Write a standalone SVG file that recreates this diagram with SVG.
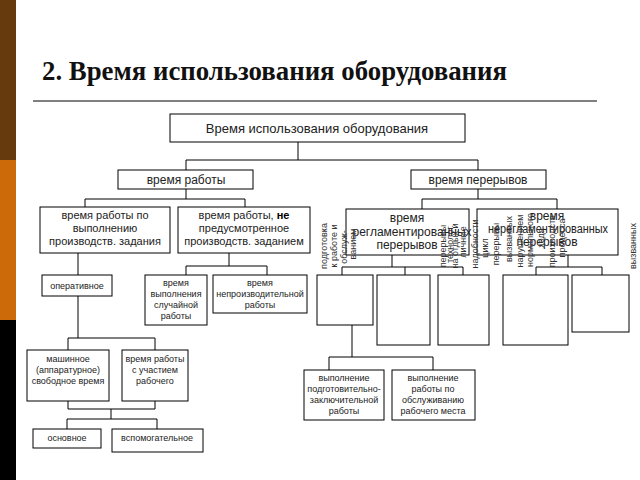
<svg xmlns="http://www.w3.org/2000/svg" width="640" height="480" viewBox="0 0 640 480">
<style>
.bx{fill:#fff;stroke:#000;stroke-width:1}
.t{font-family:"Liberation Sans",Arial,sans-serif;fill:#222;text-anchor:middle}
.s13{font-size:13px}.s12{font-size:12px}.s11{font-size:11px}.s9{font-size:9px}
.v{font-family:"Liberation Sans",Arial,sans-serif;font-size:9px;fill:#333;text-anchor:middle}
#connectors path{fill:none;stroke:#000;stroke-width:1}
</style>
<rect x="0" y="0" width="640" height="480" fill="#fff"/>
<rect x="0" y="0" width="16" height="160" fill="#663a0c"/>
<rect x="0" y="160" width="16" height="160" fill="#cc6a0a"/>
<rect x="0" y="320" width="16" height="160" fill="#000"/>
<text x="42" y="80" font-family="Liberation Serif,'Times New Roman',serif" font-weight="bold" font-size="28" textLength="465" lengthAdjust="spacingAndGlyphs" fill="#111">2. Время использования оборудования</text>
<line x1="33" y1="101" x2="597" y2="101" stroke="#000" stroke-width="1"/>
<g id="connectors">
<path d="M298 142V160M186 160H478M186 160V170M478 160V170"/>
<path d="M186 189V199M85 199H245M85 199V207M245 199V207"/>
<path d="M478 189V199M422 199H557M422 199V209M557 199V209"/>
<path d="M78 253V275M229 253V266M186 266H267M186 266V275M267 266V275"/>
<path d="M78 296V338M68 338H155M68 338V350M155 338V350"/>
<path d="M68 401V409M155 401V409M68 409H155M111 409V419M67 419H157M67 419V429M157 419V429"/>
<path d="M392 255V267M342 267H463M342 267V275M405 267V275M463 267V275"/>
<path d="M568 255V267M536 267H602M536 267V275M602 267V275"/>
<path d="M352 325V357M329 357H433M329 357V370M433 357V370"/>
</g>
<g id="n_top"><rect class="bx" x="170" y="114" width="295" height="28"/><text class="t s13" x="317" y="133">Время использования оборудования</text></g>
<g id="n_work"><rect class="bx" x="118" y="170" width="135" height="19"/><text class="t s12" x="186" y="184">время работы</text></g>
<g id="n_breaks"><rect class="bx" x="411" y="170" width="135" height="19"/><text class="t s12" x="478" y="184">время перерывов</text></g>
<g id="n_task"><rect class="bx" x="40" y="207" width="130" height="46"/><text class="t s11" x="105" y="219">время работы по</text><text class="t s11" x="105" y="232">выполнению</text><text class="t s11" x="105" y="245">производств. задания</text></g>
<g id="n_notask"><rect class="bx" x="178" y="207" width="132" height="46"/><text class="t s11" x="244" y="219">время работы, <tspan font-weight="bold" fill="#000">не</tspan></text><text class="t s11" x="244" y="232">предусмотренное</text><text class="t s11" x="244" y="245">производств. заданием</text></g>
<g id="n_reg"><rect class="bx" x="346" y="209" width="123" height="46"/><text class="t s12" x="407" y="222">время</text><text class="t s12" x="412" y="236">регламентированных</text><text class="t s12" x="407" y="249">перерывов</text></g>
<g id="n_nonreg"><rect class="bx" x="477" y="209" width="141" height="46"/><text class="t s12" x="547" y="220">время</text><text class="t s12" x="548" y="233" textLength="120" lengthAdjust="spacingAndGlyphs">нерегламентированных</text><text class="t s12" x="547" y="246">перерывов</text></g>
<g id="n_oper"><rect class="bx" x="42" y="275" width="70" height="21"/><text class="t s9" x="77" y="289">оперативное</text></g>
<g id="n_random"><rect class="bx" x="145" y="275" width="62" height="50"/><text class="t s9" x="176" y="286">время</text><text class="t s9" x="176" y="297">выполнения</text><text class="t s9" x="176" y="308">случайной</text><text class="t s9" x="176" y="319">работы</text></g>
<g id="n_unprod"><rect class="bx" x="213" y="275" width="94" height="38"/><text class="t s9" x="260" y="286">время</text><text class="t s9" x="260" y="297">непроизводительной</text><text class="t s9" x="260" y="308">работы</text></g>
<g id="n_e1"><rect class="bx" x="317" y="275" width="56" height="50"/></g>
<g id="n_e2"><rect class="bx" x="377" y="275" width="53" height="70"/></g>
<g id="n_e3"><rect class="bx" x="438" y="275" width="51" height="70"/></g>
<g id="n_e4"><rect class="bx" x="503" y="275" width="65" height="70"/></g>
<g id="n_e5"><rect class="bx" x="572" y="275" width="57" height="57"/></g>
<g id="vlabels">
<text class="v" transform="translate(327 246) rotate(-90)">подготовка</text>
<text class="v" transform="translate(337 246) rotate(-90)">к работе и</text>
<text class="v" transform="translate(347 247) rotate(-90)">обслуж-</text>
<text class="v" transform="translate(356 244) rotate(-90)">ванием</text>
<text class="v" transform="translate(446 246) rotate(-90)">перерывы</text>
<text class="v" transform="translate(453 244) rotate(-90)">технолог.</text>
<text class="v" transform="translate(458 246) rotate(-90)">на отдых и</text>
<text class="v" transform="translate(466 242) rotate(-90)">личные</text>
<text class="v" transform="translate(478 244) rotate(-90)">надобности</text>
<text class="v" transform="translate(488 248) rotate(-90)">цикл</text>
<text class="v" transform="translate(499 244) rotate(-90)">перерывы</text>
<text class="v" transform="translate(512 239) rotate(-90)">вызванных</text>
<text class="v" transform="translate(523 241) rotate(-90)">нарушением</text>
<text class="v" transform="translate(533 240) rotate(-90)">нормального</text>
<text class="v" transform="translate(544 238) rotate(-90)">хода</text>
<text class="v" transform="translate(555 240) rotate(-90)">производств.</text>
<text class="v" transform="translate(565 238) rotate(-90)">процесса</text>
<text class="v" transform="translate(636 246) rotate(-90)">вызванных</text>
</g>
<g id="n_pz"><rect class="bx" x="304" y="370" width="80" height="50"/><text class="t s9" x="344" y="381">выполнение</text><text class="t s9" x="344" y="392">подготовительно-</text><text class="t s9" x="344" y="403">заключительной</text><text class="t s9" x="344" y="414">работы</text></g>
<g id="n_obsl"><rect class="bx" x="392" y="370" width="83" height="50"/><text class="t s9" x="433" y="381">выполнение</text><text class="t s9" x="433" y="392">работы по</text><text class="t s9" x="433" y="403">обслуживанию</text><text class="t s9" x="433" y="414">рабочего места</text></g>
<g id="n_machine"><rect class="bx" x="27" y="350" width="82" height="51"/><text class="t s9" x="68" y="362">машинное</text><text class="t s9" x="68" y="373">(аппаратурное)</text><text class="t s9" x="68" y="384">свободное время</text></g>
<g id="n_worker"><rect class="bx" x="122" y="350" width="66" height="51"/><text class="t s9" x="155" y="362">время работы</text><text class="t s9" x="155" y="373">с участием</text><text class="t s9" x="155" y="384">рабочего</text></g>
<g id="n_main"><rect class="bx" x="33" y="429" width="68" height="19"/><text class="t s9" x="67" y="441">основное</text></g>
<g id="n_aux"><rect class="bx" x="112" y="429" width="91" height="23"/><text class="t s9" x="157" y="441">вспомогательное</text></g>
</svg>
